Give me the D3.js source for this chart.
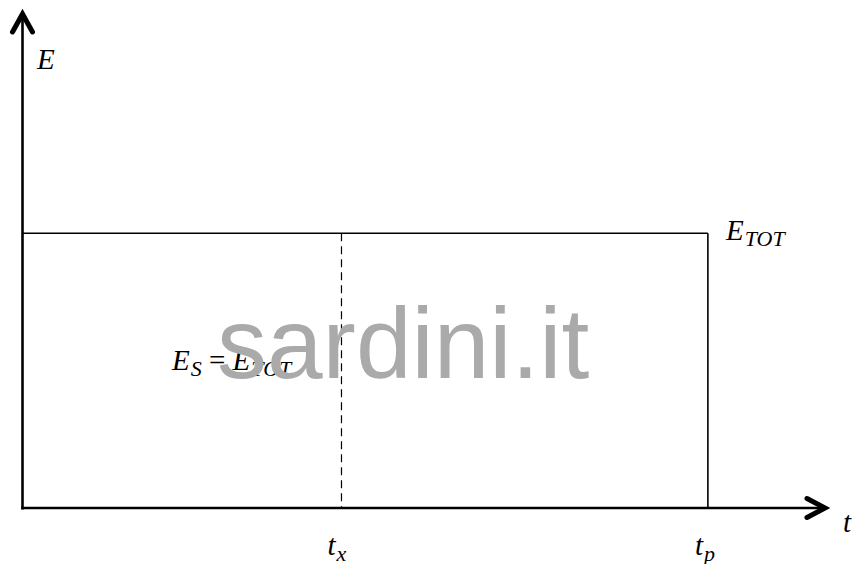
<!DOCTYPE html>
<html><head><meta charset="utf-8">
<script src="https://cdn.jsdelivr.net/npm/d3@7/dist/d3.min.js"></script>
<style>html,body{margin:0;padding:0;background:#fff;}svg{display:block;}</style>
</head><body>
<script>
// Data (normalized units)
const tMarks = [{name:"x", t:0.397}, {name:"p", t:0.853}];
const eTot = 0.554;
const axisLabels = {x:"t", y:"E"};
const watermark = "sardini.it";

const W = 855, H = 564;
const x = d3.scaleLinear().domain([0,1]).range([22.5, 826]);
const y = d3.scaleLinear().domain([0,1]).range([508, 12]);

const svg = d3.select("body").append("svg").attr("width", W).attr("height", H);
const serif = "'Liberation Serif','Times New Roman',serif";

const tx = tMarks[0].t, tp = tMarks[1].t;

// energy level
svg.append("line").attr("x1", x(0)).attr("x2", x(tp)).attr("y1", y(eTot)).attr("y2", y(eTot))
  .attr("stroke","#000").attr("stroke-width",1.6);
svg.append("line").attr("x1", x(tp)).attr("x2", x(tp)).attr("y1", y(eTot)).attr("y2", y(0))
  .attr("stroke","#000").attr("stroke-width",1.6);
svg.append("line").attr("x1", x(tx)).attr("x2", x(tx)).attr("y1", y(eTot)).attr("y2", y(0))
  .attr("stroke","#000").attr("stroke-width",1.2).attr("stroke-dasharray","8,5");

// axes
svg.append("line").attr("x1", x(0)).attr("x2", x(0)).attr("y1", y(0)+1.5).attr("y2", y(1))
  .attr("stroke","#000").attr("stroke-width",2.6);
svg.append("line").attr("x1", x(0)-1.3).attr("x2", x(1)).attr("y1", y(0)).attr("y2", y(0))
  .attr("stroke","#000").attr("stroke-width",2.6);
// arrowheads
svg.append("path").attr("d", `M${x(0)-10},${y(1)+20} L${x(0)},${y(1)+2} L${x(0)+10},${y(1)+20}`)
  .attr("fill","none").attr("stroke","#000").attr("stroke-width",5).attr("stroke-linecap","round").attr("stroke-linejoin","miter");
svg.append("path").attr("d", `M${x(1)-19},${y(0)-9.5} L${x(1)-1},${y(0)} L${x(1)-19},${y(0)+9.5}`)
  .attr("fill","none").attr("stroke","#000").attr("stroke-width",5).attr("stroke-linecap","round").attr("stroke-linejoin","miter");

function mathLabel(px, py, main, sub, extra) {
  const t = svg.append("text").attr("x", px).attr("y", py)
    .attr("font-family", serif).attr("font-style","italic").attr("font-size", 29).attr("fill","#000");
  t.append("tspan").text(main);
  if (sub) t.append("tspan").attr("dy", 6).attr("dx", 1).attr("font-size", 22).text(sub);
  if (extra) {
    t.append("tspan").attr("dy", -6).attr("font-style","normal").text(" = ");
    t.append("tspan").text(extra[0]);
    t.append("tspan").attr("dy", 6).attr("dx", 1).attr("font-size", 22).text(extra[1]);
  }
  return t;
}

mathLabel(37, 69, axisLabels.y);
mathLabel(843, 532, axisLabels.x);
mathLabel(x(tx)-14, 555, "t", tMarks[0].name);
mathLabel(x(tp)-13, 555, "t", tMarks[1].name);
mathLabel(726, 240, "E", "TOT");
mathLabel(172, 370, "E", "S", ["E","TOT"]);

// watermark
svg.append("text").attr("x", 217).attr("y", 378)
  .attr("font-family","'Liberation Sans',Arial,sans-serif").attr("font-size",100)
  .attr("fill","#aaaaaa").text(watermark);
</script>
</body></html>
